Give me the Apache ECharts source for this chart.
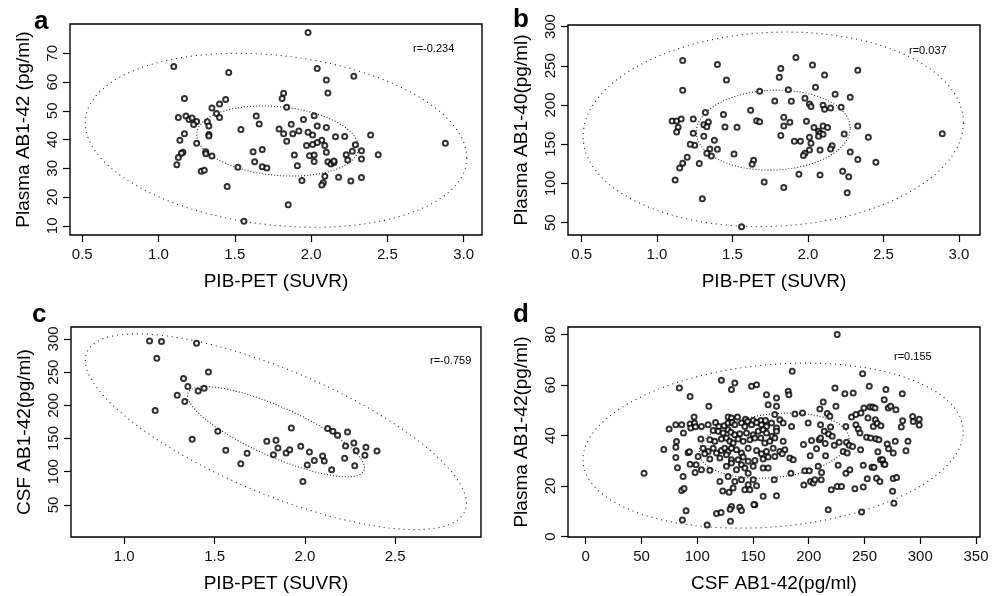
<!DOCTYPE html>
<html><head><meta charset="utf-8">
<script src="https://cdn.jsdelivr.net/npm/echarts@6/dist/echarts.min.js"></script>
<style>html,body{margin:0;padding:0;background:#fff}#c{width:997px;height:596px}</style>
</head><body><div id="c"></div>
<script>
// ---------- data ----------
const aPoints = [[1.10,65.4],[1.98,77.2],[1.46,63.3],[2.04,64.7],[2.10,60.7],[2.28,62.0],[2.11,56.2],[1.17,54.3],[1.44,53.9],[1.40,52.4],[1.35,51.0],[1.82,56.1],[1.81,54.3],[1.84,51.2],[1.13,47.7],[1.18,48.2],[1.20,47.0],[1.22,47.5],[1.25,46.3],[1.23,45.2],[1.32,46.2],[1.33,44.7],[1.38,49.1],[1.40,47.7],[1.17,42.0],[1.14,39.8],[1.33,41.8],[1.33,41.2],[1.25,38.7],[1.16,35.6],[1.15,35.2],[1.13,33.8],[1.12,31.2],[1.31,35.8],[1.31,35.1],[1.35,34.3],[1.28,29.0],[1.30,29.3],[1.45,23.7],[1.52,30.4],[1.54,43.5],[1.64,48.2],[1.66,45.4],[1.62,35.8],[1.68,36.5],[1.63,32.3],[1.68,30.5],[1.71,30.1],[1.56,11.6],[1.85,17.3],[1.79,43.7],[1.82,42.0],[1.87,45.3],[1.88,42.0],[1.84,39.4],[1.92,43.0],[1.95,47.0],[2.02,48.3],[1.98,42.5],[2.01,41.6],[2.04,44.7],[2.10,44.2],[2.07,39.8],[2.04,39.0],[2.01,38.3],[1.97,37.9],[2.09,37.9],[2.16,41.0],[2.22,41.1],[2.29,38.2],[2.27,35.9],[2.23,34.7],[2.24,32.9],[2.33,36.1],[2.33,33.2],[2.39,41.6],[2.44,34.7],[2.88,38.7],[1.89,34.6],[1.99,34.4],[2.02,34.6],[2.02,32.4],[2.10,35.6],[2.11,32.3],[2.13,31.5],[2.15,32.0],[2.15,32.5],[1.91,30.9],[1.94,25.8],[2.09,27.2],[2.08,25.0],[2.07,24.2],[2.18,26.9],[2.26,25.6],[2.33,26.8]];

const bPoints = [[1.17,256.6],[1.40,251.5],[1.46,232],[1.17,218.7],[1.92,260.5],[1.82,246.4],[2.03,251],[2.11,238.4],[2.33,244.3],[1.81,235.4],[1.87,219.6],[2.05,222.6],[2.18,213.7],[2.28,209.9],[1.68,217.5],[1.78,205.2],[1.89,204.8],[1.98,208.6],[2.01,201.4],[2.02,198],[2.10,199.7],[2.11,194.6],[2.15,196.3],[2.22,197.1],[1.62,193.3],[1.84,184.4],[1.66,180.1],[1.68,178.8],[1.84,173.3],[1.88,178],[1.99,179.3],[2.04,171.2],[2.10,173.3],[2.13,171.2],[2.07,166.5],[2.08,164],[2.10,162.7],[2.07,160.1],[2.01,158.8],[1.82,161],[2.24,163.1],[2.33,173.3],[2.40,158.8],[2.89,163.5],[2.02,151.2],[1.91,153.7],[1.95,153.7],[2.08,142.7],[2.01,142.7],[1.98,138.4],[1.97,135.5],[2.16,148.2],[2.15,144],[2.28,140.1],[2.33,130.4],[2.45,127],[2.23,115.5],[2.27,108.7],[2.08,110.8],[1.94,111.6],[1.84,95],[2.26,88.3],[1.71,101.9],[1.64,129.5],[1.63,124.4],[1.51,137.6],[1.53,171.6],[1.44,187.8],[1.45,172],[1.40,143.5],[1.38,155],[1.35,144],[1.36,135],[1.33,138.4],[1.32,190.3],[1.31,175],[1.34,178.4],[1.33,172.4],[1.31,160.1],[1.24,164],[1.24,182.2],[1.25,148.6],[1.22,149.9],[1.14,171.6],[1.13,165.6],[1.10,179.7],[1.13,179.7],[1.16,182.2],[1.20,133.3],[1.17,125.7],[1.15,119.7],[1.12,104.4],[1.28,125.3],[1.30,80.6],[1.56,44.9]];

const cPoints = [[1.14,297],[1.206,296],[1.40,293.4],[1.18,270.8],[1.466,250.1],[1.328,240.5],[1.352,228.4],[1.442,225.9],[1.409,221.4],[1.293,215.3],[1.335,205.7],[1.171,192.1],[1.376,148.8],[1.518,160.9],[1.562,132.2],[1.68,127.6],[1.645,112],[1.925,165.9],[1.789,145.8],[1.84,147.3],[1.851,135.7],[1.826,125.6],[1.896,128.1],[1.916,133.2],[1.977,138.2],[2.025,129.6],[2.013,110],[2.052,117],[2.098,123.6],[2.107,116],[2.148,102.9],[1.989,85.3],[2.126,164.9],[2.155,160.9],[2.181,154.8],[2.236,159.9],[2.225,138.7],[2.271,143.2],[2.284,131.7],[2.22,120.1],[2.276,109],[2.332,124.6],[2.338,136.7],[2.399,131.1]];

const dPoints = [
[52.3,25.1],[70,34.5],[74.8,42.6],[80.8,44.3],[81.4,37.6],[80.8,31.3],[82.3,27.2],[84,58.8],[86.1,44.3],[87.6,41],[87.3,23.8],[86.1,18.2],[88.2,19],[86.7,6.5],[90,10.2],[91.8,33.2],[93,33.6],[93.6,55.5],[93.6,44.6],[94.2,43],[93.6,28.6],[97.2,47.3],[97.5,45],[98.4,43.5],[98.1,25.4],[99,28.4],[80.8,35.4],
[127.7,47.3],[130.7,46.9],[136.1,47.3],[143.3,46.5],[145.1,45.6],[150.2,46],[157,46],[161.2,46],[169.6,48.3],[174.1,46.3],[187.6,48.5],
[103.8,43.6],[109.8,44.3],[116.4,45.2],[119.4,43.6],[124.1,43.9],[127.7,45],[131.3,45.2],[133.7,44.3],[139.7,45],[142.7,43.6],[148.7,44.3],[153.2,45.2],[157.6,44.3],[162.1,43.6],[166.6,45],[171.1,43],[177.1,45],[184.6,43.6],
[114.3,42],[118.8,41.7],[123.2,41],[127.7,42.3],[130.1,41.3],[133.7,40.3],[138.2,40.7],[144.2,41],[150.2,40.3],[154.7,41.7],[159.1,42.3],[162.1,41],[167.2,39.7],[171.1,41.7],
[103.2,38.6],[111.3,38.3],[115.8,37.7],[121.7,38.6],[126.2,39],[129.2,37.7],[132.2,37],[136.7,38.6],[141.2,37.7],[147.2,38.3],[151.7,39],[157,39],[160.6,37],[165.1,37.7],[169.6,39],[177.1,37.7],
[105.3,35],[109.8,33.7],[114.3,35],[117.3,33.1],[121.7,34.1],[124.7,35],[127.7,33.7],[130.7,35],[135.2,34.4],[139.7,33.1],[145.7,35],[153.2,34.1],[157.6,32.8],[162.1,33.7],[168.1,35],[174.1,33.7],[178.6,34.4],[183.1,31.1],[186.1,30.4],
[100.8,31.7],[106.8,32.8],[111.3,30.7],[120.3,31.1],[126.2,32.4],[130.7,30.4],[136.7,30.4],[141.2,31.5],[145.7,29.8],[151.7,30.1],[159.1,30.7],[163.6,31.5],[169.6,31.7],[176.2,32.8],
[103.8,26.4],[111.3,26.2],[126.2,27.8],[130.7,29.1],[135.2,26.4],[139.7,28.4],[142.7,27.1],[145.7,25.1],[150.2,27.8],[159.1,27.1],[163.6,27.1],[169,22.5],[184,25.1],
[120.3,21.8],[127.7,23.8],[133.7,21.8],[139.7,22.5],[145.7,20.5],[150.2,22.5],[142.7,18.5],[147.2,18.5],[153.2,20.1],[132.2,19.2],
[159.1,15.9],[171.1,16.1],[130.7,11.9],[138.2,11.6],[151.7,12.6],[122.9,18],[128.6,17.5],
[133.7,60.8],[148.7,59.5],[153.2,60.1],[130.7,58.2],[162.1,56.2],[171.1,54.9],[181.6,57.5],[182.2,56.2],[163.6,52.2],[171.1,51.6],[110.4,51.6],[121.7,61.9],[185.2,65.5],
[108.9,4.6],[117.3,9.1],[121.4,9.5],[129.5,10.8],[129.8,6],[139.7,10.3],[150.8,12.7],
[194.4,48.9],[195.3,36.4],[195.6,20.4],[196.5,26],[199.5,45],[200.4,26],[201.3,32],[201.6,21.8],[202.5,38],[204,21.2],[205.5,22.5],[207,34.8],[208.5,27.8],[209.4,38.3],[210,50.5],[210.6,44.3],[210.6,39],[211.2,22.5],[211.5,25.4],[213,53.3],[213.9,41.7],[214.8,36.8],[215.1,32],[216.6,48.7],[217.5,10.6],[217.8,40.6],[219,47.6],[219.6,43.4],[220.2,18.5],[221.1,39.7],[222.9,36.2],[223.5,58.8],[224.4,51.6],[225.5,19.8],[225.5,80],[226.4,28.2],[227.3,37.3],[229.4,19.8],[230.9,33.7],[232.4,56.6],[233.3,43.6],[233.3,25.1],[233.9,37.3],[234.5,33.1],[236.3,36.2],[236.9,26.4],[238.4,47.3],[239.3,35.7],[239.9,56.9],[241.4,18.9],[242.3,48.3],[242.3,44.3],[244.4,42.6],[245.9,41],[246.5,34.4],[246.8,48.9],[247.4,9.7],[248.3,64.5],[248.9,28.2],[248.9,19.6],[249.5,50.9],[251.9,39.3],[252.5,22.9],[253.1,46.9],[254.3,59.5],[254.9,51.3],[255.5,39],[256.7,27.4],[257.3,51.3],[257.9,43.6],[258.5,27.4],[259.4,50.9],[259.7,46.3],[260.3,38.7],[260.8,23.1],[261.4,44.9],[262,33.6],[262.9,38.3],[263.8,21.8],[264.4,30.4],[264.7,43.9],[266.2,30.4],[267.7,54.2],[267.4,28.7],[268.3,28.5],[269.2,58.2],[270.4,36.6],[271.3,50.9],[271.6,34.8],[273.4,51.6],[275.2,17.9],[275.8,23],[275.8,33.1],[276.4,13.2],[277.6,37.7],[278.2,50.2],[278.8,23.4],[283,43.4],[283.9,56.6],[284.2,45.9],[287.2,34],[289,37.7],[293.2,47.5],[293.7,45.6],[299.1,46.5],[299.1,44.2]
];

// ellipse parameters: [centerX, centerY, halfWidthX, halfHeightY, correlation]
const aEllipses = [[1.77, 39.75, 1.25, 30.25, -0.2], [1.78, 39.5, 0.53, 12.2, -0.18]];
const bEllipses = [[1.77, 169, 1.26, 124, 0.07], [1.77, 168, 0.51, 51, 0.05]];
const cEllipses = [[1.839, 160.2, 1.055, 147.5, -0.73], [1.84, 160.3, 0.49, 68, -0.8]];
const dEllipses = [[168, 36, 170.5, 32.7, 0.17], [169, 36, 67.3, 12.9, 0.2]];

const aXTicks = [0.5, 1.0, 1.5, 2.0, 2.5, 3.0];
const aYTicks = [10, 20, 30, 40, 50, 60, 70];
const bXTicks = [0.5, 1.0, 1.5, 2.0, 2.5, 3.0];
const bYTicks = [50, 100, 150, 200, 250, 300];
const cXTicks = [1.0, 1.5, 2.0, 2.5];
const cYTicks = [50, 100, 150, 200, 250, 300];
const dXTicks = [0, 50, 100, 150, 200, 250, 300, 350];
const dYTicks = [0, 20, 40, 60, 80];

const rLabels = ['r=-0.234', 'r=0.037', 'r=-0.759', 'r=0.155'];
const panelLetters = ['a', 'b', 'c', 'd'];
const xTitles = ['PIB-PET (SUVR)', 'PIB-PET (SUVR)', 'PIB-PET (SUVR)', 'CSF AB1-42(pg/ml)'];
const yTitles = ['Plasma AB1-42 (pg/ml)', 'Plasma AB1-40(pg/ml)', 'CSF AB1-42(pg/ml)', 'Plasma AB1-42(pg/ml)'];

// ---------- chart ----------
const FONT = 'Liberation Sans';
function ellipse(e) {
  const [cx, cy, rx, ry, rho] = e;
  const phi = Math.acos(rho);
  const pts = [];
  for (let i = 0; i <= 240; i++) {
    const t = i / 240 * 2 * Math.PI;
    pts.push([cx + rx * Math.cos(t), cy + ry * Math.cos(t - phi)]);
  }
  return pts;
}
const grids = [
  {left: 70, top: 24, width: 412, height: 211},
  {left: 568, top: 25, width: 412, height: 210},
  {left: 71, top: 327, width: 410, height: 210},
  {left: 568, top: 327, width: 412, height: 210}
].map(g => Object.assign(g, {show: true, borderColor: '#000', borderWidth: 1.4, backgroundColor: 'transparent'}));

const ranges = [
  {x: [0.42, 3.12], y: [6.8, 80.2], xt: aXTicks, yt: aYTicks, xd: 1},
  {x: [0.41, 3.14], y: [34.3, 302], xt: bXTicks, yt: bYTicks, xd: 1},
  {x: [0.705, 2.975], y: [1.6, 318], xt: cXTicks, yt: cYTicks, xd: 1},
  {x: [-15.9, 353.6], y: [-0.2, 83], xt: dXTicks, yt: dYTicks, xd: 0}
];
const xAxes = ranges.map((r, i) => ({
  type: 'value', gridIndex: i, min: r.x[0], max: r.x[1],
  name: xTitles[i], nameLocation: 'middle', nameGap: 37,
  nameTextStyle: {fontSize: 19, color: '#000', fontFamily: FONT},
  axisLine: {show: false, onZero: false},
  axisTick: {show: true, length: 7, customValues: r.xt, lineStyle: {color: '#000', width: 1.2}},
  axisLabel: {customValues: r.xt, formatter: v => v.toFixed(r.xd), fontSize: 15, color: '#111', fontFamily: FONT, margin: 12},
  splitLine: {show: false}
}));
const yAxes = ranges.map((r, i) => ({
  type: 'value', gridIndex: i, min: r.y[0], max: r.y[1],
  name: yTitles[i], nameLocation: 'middle', nameGap: 37, nameRotate: 90,
  nameTextStyle: {fontSize: 19, color: '#000', fontFamily: FONT},
  axisLine: {show: false, onZero: false},
  axisTick: {show: true, length: 7, customValues: r.yt, lineStyle: {color: '#000', width: 1.2}},
  axisLabel: {customValues: r.yt, rotate: 90, formatter: v => String(v), fontSize: 15, color: '#111', fontFamily: FONT, margin: 10},
  splitLine: {show: false}
}));

const allPoints = [aPoints, bPoints, cPoints, dPoints];
const allEllipses = [aEllipses, bEllipses, cEllipses, dEllipses];
const series = [];
allPoints.forEach((pts, i) => {
  allEllipses[i].forEach((e, k) => {
    series.push({
      type: 'line', xAxisIndex: i, yAxisIndex: i, data: ellipse(e), showSymbol: false, silent: true,
      lineStyle: {color: '#222', width: 1.1, type: k === 0 ? [1, 4] : [1, 2]}, z: 1
    });
  });
  series.push({
    type: 'scatter', xAxisIndex: i, yAxisIndex: i, data: pts, symbol: 'emptyCircle', symbolSize: 5,
    itemStyle: {color: '#000', borderColor: '#000', borderWidth: 1.3}, z: 3
  });
});

const letterPos = [[34, 9], [513, 7], [32, 302], [513, 302]];
const rPos = [[413, 43], [909, 45], [430, 355], [894, 351]];
const graphics = [];
panelLetters.forEach((t, i) => {
  graphics.push({type: 'text', left: letterPos[i][0], top: letterPos[i][1],
    style: {text: t, font: 'bold 26px ' + FONT, fill: '#000'}});
  graphics.push({type: 'text', left: rPos[i][0], top: rPos[i][1],
    style: {text: rLabels[i], font: '11px ' + FONT, fill: '#000'}});
});

const chart = echarts.init(document.getElementById('c'), null, {renderer: 'canvas'});
chart.setOption({
  animation: false,
  backgroundColor: '#fff',
  grid: grids, xAxis: xAxes, yAxis: yAxes, series: series, graphic: graphics
});
</script></body></html>
